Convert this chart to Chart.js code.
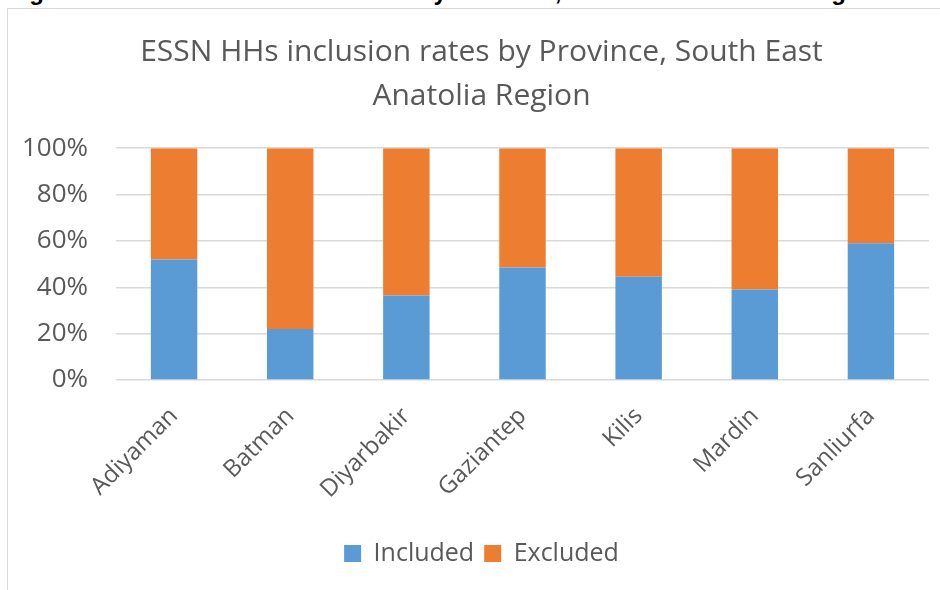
<!DOCTYPE html>
<html>
<head>
<meta charset="utf-8">
<script src="https://cdn.jsdelivr.net/npm/chart.js@4.4.0/dist/chart.umd.min.js"></script>
<style>
  body { margin:0; width:940px; height:590px; overflow:hidden; background:#fff; position:relative; }
  #caption { position:absolute; left:8px; top:-20px; font:bold 24px "Liberation Sans", Arial, sans-serif; color:#000; white-space:nowrap; line-height:24px; }
  #frame { position:absolute; left:7px; top:8px; width:960px; height:620px; border:1px solid #d9d9d9; background:#fff; }
  #wrap { position:absolute; left:8px; top:9px; width:950px; height:600px; }
</style>
</head>
<body>
<div id="caption">Figure 5: ESSN HHs inclusion rates by Province, South East Anatolia Region</div>
<div id="frame"></div>
<div id="wrap"><canvas id="chart"></canvas></div>
<script>
var provinces = ['Adiyaman','Batman','Diyarbakir','Gaziantep','Kilis','Mardin','Sanliurfa'];
var included = [52, 22, 36.5, 48.5, 44.5, 39, 59];
var excluded = [48, 78, 63.5, 51.5, 55.5, 61, 41];
var yTicks = [0, 20, 40, 60, 80, 100];

var textColor = '#595959';
var font = '"Open Sans", sans-serif';

// nudge title + legend a bit right so they sit centred on the frame like the original
var shiftBoxes = {
  id: 'shiftBoxes',
  afterLayout: function(chart){
    var d = 7;
    if (chart.titleBlock) { chart.titleBlock.left += d; chart.titleBlock.right += d; }
    if (chart.legend) { chart.legend.left += d; chart.legend.right += d; }
  }
};

var ctx = document.getElementById('chart');
var chart = new Chart(ctx, {
  type: 'bar',
  data: {
    labels: provinces,
    datasets: [
      { label: 'Included', data: included, backgroundColor: '#5B9BD5', barPercentage: 0.4, categoryPercentage: 1 },
      { label: 'Excluded', data: excluded, backgroundColor: '#ED7D31', barPercentage: 0.4, categoryPercentage: 1 }
    ]
  },
  plugins: [shiftBoxes],
  options: {
    responsive: true,
    maintainAspectRatio: false,
    animation: false,
    layout: { padding: { left: 12, right: 29, top: 0, bottom: 33 } },
    plugins: {
      title: {
        display: true,
        text: ['ESSN HHs inclusion rates by Province, South East', 'Anatolia Region'],
        color: textColor,
        font: { family: font, size: 30, weight: 'normal', lineHeight: 1.47 },
        padding: { top: 21, bottom: 30 }
      },
      legend: {
        position: 'bottom',
        labels: { color: textColor, font: { family: font, size: 25 }, boxWidth: 17, boxHeight: 17, padding: 10 }
      },
      tooltip: { enabled: false }
    },
    scales: {
      x: {
        stacked: true,
        grid: { display: false },
        border: { display: false },
        ticks: { color: textColor, font: { family: font, size: 24 }, minRotation: 45, maxRotation: 45, padding: 14 },
        afterFit: function(s){ s.height = 151; }
      },
      y: {
        stacked: true,
        min: 0, max: 100,
        afterBuildTicks: function(s){ s.ticks = yTicks.map(function(v){ return { value: v }; }); },
        grid: { color: '#d9d9d9', lineWidth: 1.5, drawTicks: false },
        border: { display: false },
        ticks: { color: textColor, font: { family: font, size: 26 }, padding: 28, callback: function(v){ return v + '%'; } },
        afterFit: function(s){ s.width = 96; }
      }
    }
  }
});
</script>
</body>
</html>
